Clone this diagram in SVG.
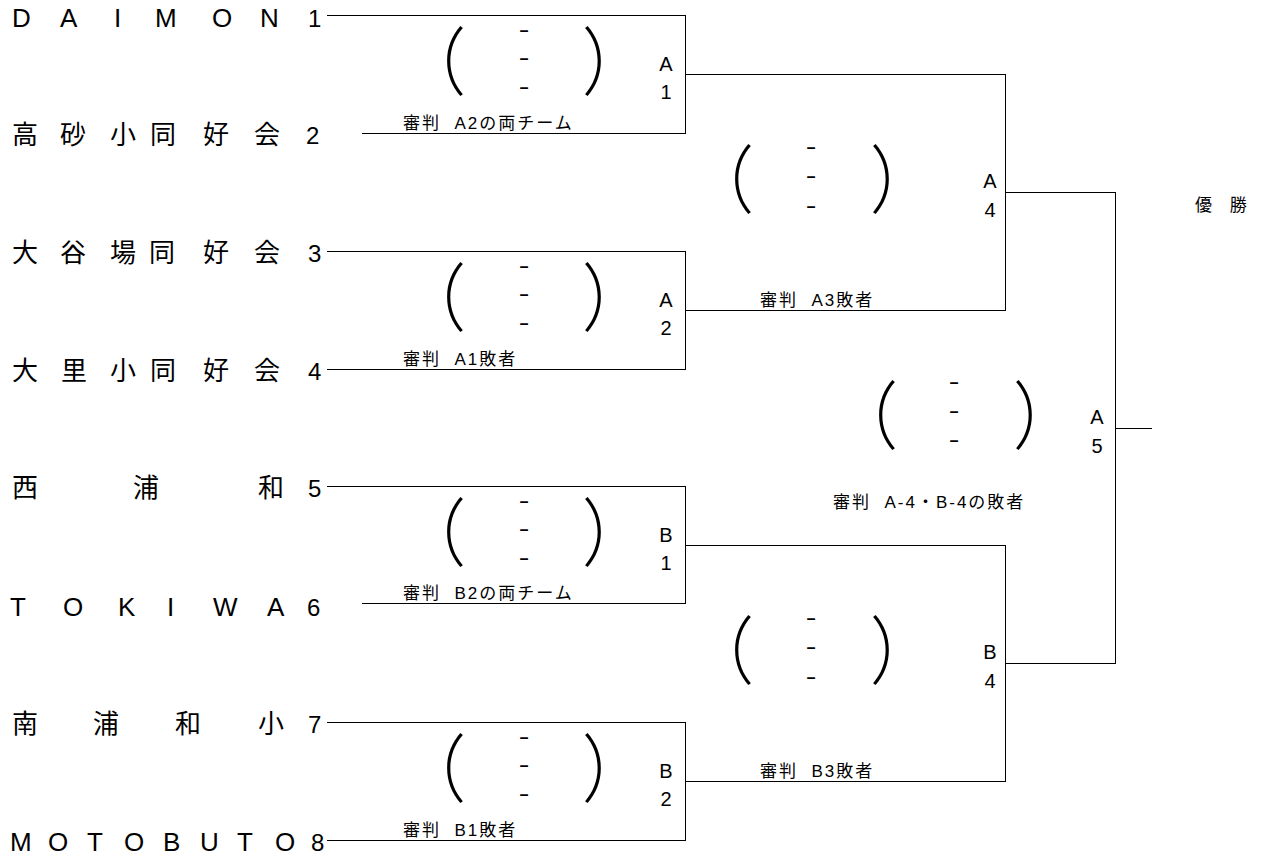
<svg xmlns="http://www.w3.org/2000/svg" width="1262" height="859" viewBox="0 0 1262 859">
<style>
.bg{fill:#fff}
.ln{fill:none;stroke:#000;stroke-width:1}
.lat{font-family:"Liberation Sans",Arial,sans-serif;font-size:26px;fill:#000}
.kan{font-family:"Noto Sans CJK JP","Liberation Sans",sans-serif;font-size:26px;fill:#000}
.num{font-family:"Liberation Sans",Arial,sans-serif;font-size:24px;fill:#000}
.par{font-family:"Noto Sans CJK JP",sans-serif;font-size:66px;font-weight:300;fill:#000;text-anchor:middle}
.dash{font-family:"Noto Sans CJK JP",sans-serif;font-size:16px;font-weight:bold;fill:#000;text-anchor:middle}
.lab{font-family:"Liberation Sans",Arial,sans-serif;font-size:20px;fill:#000;text-anchor:middle}
.ref{font-family:"Liberation Sans","Noto Sans CJK JP",sans-serif;font-size:17px;letter-spacing:2px;fill:#000;white-space:pre}
</style>
<rect class="bg" x="0" y="0" width="1262" height="859"/>

<g id="connectors">
<path class="ln" d="M327 15.5H685.5M362 133.5H685.5M685.5 15V134M685.5 74.5H1005.5
M327 251.5H685.5M327 369.5H685.5M685.5 251V370M685.5 310.5H1005.5
M1005.5 74V311M1005.5 192.5H1115.5
M327 486.5H685.5M362 603.5H685.5M685.5 486V604M685.5 545.5H1005.5
M327 722.5H685.5M327 840.5H685.5M685.5 722V841M685.5 781.5H1005.5
M1005.5 545V782M1005.5 663.5H1115.5
M1115.5 192V664M1115.5 428.5H1152"/>
</g>

<g id="team1">
<text class="lat" x="12 60 114 155 212 260" y="27">DAIMON</text>
<text class="num" x="308" y="27">1</text>
</g>
<g id="team2">
<text class="kan" x="12 60 110 150 203 254" y="144">高砂小同好会</text>
<text class="num" x="306" y="144">2</text>
</g>
<g id="team3">
<text class="kan" x="12 60 110 149 203 254" y="262">大谷場同好会</text>
<text class="num" x="308" y="262">3</text>
</g>
<g id="team4">
<text class="kan" x="12 61 110 150 203 254" y="380">大里小同好会</text>
<text class="num" x="308" y="380">4</text>
</g>
<g id="team5">
<text class="kan" x="12 133 258" y="497">西浦和</text>
<text class="num" x="308" y="497">5</text>
</g>
<g id="team6">
<text class="lat" x="10 63 118 167 213 267" y="616">TOKIWA</text>
<text class="num" x="307" y="616">6</text>
</g>
<g id="team7">
<text class="kan" x="12 93 175 258" y="733">南浦和小</text>
<text class="num" x="308" y="733">7</text>
</g>
<g id="team8">
<text class="lat" x="10 48 87 124 163 200 237 275" y="851">MOTOBUTO</text>
<text class="num" x="311" y="851">8</text>
</g>

<g id="matchA1">
<text class="par" transform="translate(433,88.5) scale(1,1.12)">（</text><text class="par" transform="translate(615,88.5) scale(1,1.12)">）</text>
<text class="dash" transform="translate(524,36) scale(1.8,1)">-</text><text class="dash" transform="translate(524,64) scale(1.8,1)">-</text><text class="dash" transform="translate(524,93) scale(1.8,1)">-</text>
<text class="lab" x="666" y="71">A</text><text class="lab" x="666" y="99">1</text>
<text class="ref" x="403" y="129">審判  A2の両チーム</text>
</g>
<g id="matchA2">
<text class="par" transform="translate(433,324.5) scale(1,1.12)">（</text><text class="par" transform="translate(615,324.5) scale(1,1.12)">）</text>
<text class="dash" transform="translate(524,272) scale(1.8,1)">-</text><text class="dash" transform="translate(524,300) scale(1.8,1)">-</text><text class="dash" transform="translate(524,329) scale(1.8,1)">-</text>
<text class="lab" x="666" y="307">A</text><text class="lab" x="666" y="335">2</text>
<text class="ref" x="403" y="365">審判  A1敗者</text>
</g>
<g id="matchB1">
<text class="par" transform="translate(433,559.5) scale(1,1.12)">（</text><text class="par" transform="translate(615,559.5) scale(1,1.12)">）</text>
<text class="dash" transform="translate(524,507) scale(1.8,1)">-</text><text class="dash" transform="translate(524,535) scale(1.8,1)">-</text><text class="dash" transform="translate(524,564) scale(1.8,1)">-</text>
<text class="lab" x="666" y="542">B</text><text class="lab" x="666" y="570">1</text>
<text class="ref" x="403" y="599">審判  B2の両チーム</text>
</g>
<g id="matchB2">
<text class="par" transform="translate(433,795.5) scale(1,1.12)">（</text><text class="par" transform="translate(615,795.5) scale(1,1.12)">）</text>
<text class="dash" transform="translate(524,743) scale(1.8,1)">-</text><text class="dash" transform="translate(524,771) scale(1.8,1)">-</text><text class="dash" transform="translate(524,800) scale(1.8,1)">-</text>
<text class="lab" x="666" y="778">B</text><text class="lab" x="666" y="806">2</text>
<text class="ref" x="403" y="836">審判  B1敗者</text>
</g>
<g id="matchA4">
<text class="par" transform="translate(721,206.5) scale(1,1.12)">（</text><text class="par" transform="translate(903,206.5) scale(1,1.12)">）</text>
<text class="dash" transform="translate(811,153) scale(1.8,1)">-</text><text class="dash" transform="translate(811,182) scale(1.8,1)">-</text><text class="dash" transform="translate(811,212) scale(1.8,1)">-</text>
<text class="lab" x="990" y="188">A</text><text class="lab" x="990" y="217">4</text>
<text class="ref" x="760" y="306">審判  A3敗者</text>
</g>
<g id="matchB4">
<text class="par" transform="translate(721,677.5) scale(1,1.12)">（</text><text class="par" transform="translate(903,677.5) scale(1,1.12)">）</text>
<text class="dash" transform="translate(811,624) scale(1.8,1)">-</text><text class="dash" transform="translate(811,653) scale(1.8,1)">-</text><text class="dash" transform="translate(811,683) scale(1.8,1)">-</text>
<text class="lab" x="990" y="659">B</text><text class="lab" x="990" y="688">4</text>
<text class="ref" x="760" y="777">審判  B3敗者</text>
</g>
<g id="matchA5">
<text class="par" transform="translate(865,442.5) scale(1,1.12)">（</text><text class="par" transform="translate(1046,442.5) scale(1,1.12)">）</text>
<text class="dash" transform="translate(954,388) scale(1.8,1)">-</text><text class="dash" transform="translate(954,417) scale(1.8,1)">-</text><text class="dash" transform="translate(954,446) scale(1.8,1)">-</text>
<text class="lab" x="1097" y="424">A</text><text class="lab" x="1097" y="453">5</text>
<text class="ref" x="833" y="508">審判  A-4・B-4の敗者</text>
</g>
<g id="champion">
<text class="ref" x="1195" y="211" style="word-spacing:9px">優 勝</text>
</g>
</svg>
